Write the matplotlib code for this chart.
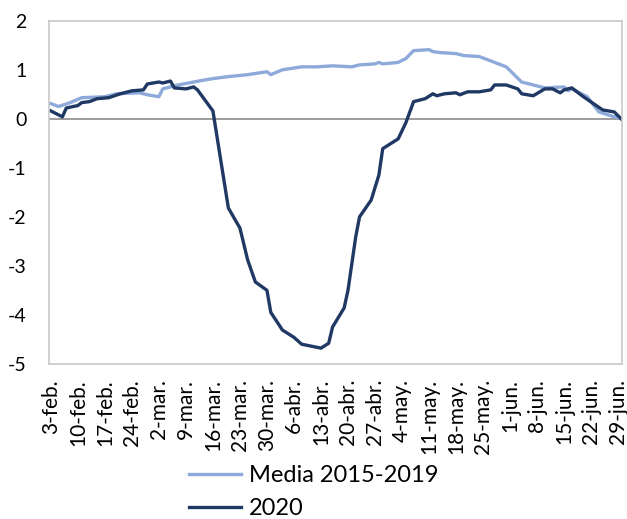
import pandas as pd
import matplotlib.pyplot as plt

# =====================================================
# 1. DATA
# =====================================================

# Media 2015-2019
media_dates = [
    "2020-02-03", "2020-02-05", "2020-02-08", "2020-02-11", "2020-02-17",
    "2020-02-20", "2020-02-26", "2020-02-28", "2020-03-02", "2020-03-03",
    "2020-03-07", "2020-03-13", "2020-03-16", "2020-03-20", "2020-03-25",
    "2020-03-30", "2020-03-31", "2020-04-03", "2020-04-08", "2020-04-12",
    "2020-04-16", "2020-04-21", "2020-04-23", "2020-04-27", "2020-04-28",
    "2020-04-29", "2020-05-03", "2020-05-05", "2020-05-07", "2020-05-11",
    "2020-05-12", "2020-05-14", "2020-05-18", "2020-05-20", "2020-05-24",
    "2020-05-28", "2020-05-31", "2020-06-04", "2020-06-10", "2020-06-15",
    "2020-06-16", "2020-06-17", "2020-06-21", "2020-06-24", "2020-06-28",
    "2020-06-30",
]
media_values = [
    0.31, 0.25, 0.33, 0.43, 0.45,
    0.51, 0.53, 0.49, 0.45, 0.61,
    0.69, 0.78, 0.82, 0.86, 0.90,
    0.96, 0.90, 1.00, 1.06, 1.06,
    1.08, 1.06, 1.10, 1.12, 1.15,
    1.12, 1.15, 1.23, 1.39, 1.41,
    1.37, 1.35, 1.33, 1.29, 1.27,
    1.15, 1.06, 0.75, 0.63, 0.65,
    0.57, 0.61, 0.45, 0.14, 0.04,
    0.00,
]

# 2020
y2020_dates = [
    "2020-02-03", "2020-02-06", "2020-02-07", "2020-02-10", "2020-02-11",
    "2020-02-13", "2020-02-15", "2020-02-18", "2020-02-21", "2020-02-24",
    "2020-02-27", "2020-02-28", "2020-03-02", "2020-03-03", "2020-03-05",
    "2020-03-06", "2020-03-09", "2020-03-11", "2020-03-12", "2020-03-16",
    "2020-03-20", "2020-03-23", "2020-03-25", "2020-03-27", "2020-03-30",
    "2020-03-31", "2020-04-03", "2020-04-06", "2020-04-08", "2020-04-13",
    "2020-04-15", "2020-04-16", "2020-04-19", "2020-04-20", "2020-04-22",
    "2020-04-23", "2020-04-26", "2020-04-28", "2020-04-29", "2020-05-03",
    "2020-05-05", "2020-05-07", "2020-05-10", "2020-05-12", "2020-05-13",
    "2020-05-15", "2020-05-18", "2020-05-19", "2020-05-21", "2020-05-24",
    "2020-05-27", "2020-05-28", "2020-05-31", "2020-06-03", "2020-06-04",
    "2020-06-07", "2020-06-10", "2020-06-12", "2020-06-14", "2020-06-15",
    "2020-06-17", "2020-06-20", "2020-06-25", "2020-06-28", "2020-06-30",
]
y2020_values = [
    0.16, 0.04, 0.22, 0.27, 0.33,
    0.35, 0.41, 0.43, 0.51, 0.57,
    0.59, 0.71, 0.75, 0.73, 0.77,
    0.63, 0.61, 0.65, 0.59, 0.16,
    -1.82, -2.23, -2.88, -3.33, -3.50,
    -3.95, -4.31, -4.46, -4.60, -4.68,
    -4.58, -4.25, -3.86, -3.50, -2.41,
    -2.00, -1.66, -1.15, -0.61, -0.41,
    -0.08, 0.35, 0.41, 0.51, 0.47,
    0.51, 0.53, 0.49, 0.55, 0.55,
    0.59, 0.69, 0.69, 0.61, 0.51,
    0.47, 0.61, 0.61, 0.53, 0.59,
    0.63, 0.45, 0.18, 0.14, -0.02,
]

tick_dates = pd.date_range("2020-02-03", "2020-06-29", freq="7D")
tick_labels = [
    "3-feb.", "10-feb.", "17-feb.", "24-feb.", "2-mar.", "9-mar.",
    "16-mar.", "23-mar.", "30-mar.", "6-abr.", "13-abr.", "20-abr.",
    "27-abr.", "4-may.", "11-may.", "18-may.", "25-may.", "1-jun.",
    "8-jun.", "15-jun.", "22-jun.", "29-jun.",
]

# =====================================================
# 2. PLOT
# =====================================================

plt.rcParams["font.family"] = ["Lato", "DejaVu Sans"]
plt.rcParams["axes.unicode_minus"] = False

fig = plt.figure(figsize=(6.27, 5.19), dpi=100)
ax = fig.add_axes([0.078, 0.299, 0.914, 0.661])

ax.plot(pd.to_datetime(media_dates), media_values, color="#8eaadb",
        linewidth=2.4, label="Media 2015-2019", solid_joinstyle="round")
ax.plot(pd.to_datetime(y2020_dates), y2020_values, color="#1f3864",
        linewidth=2.4, label="2020", solid_joinstyle="round")

ax.axhline(0, color="#8c8c8c", linewidth=1.2, zorder=1)

ax.set_xlim(pd.Timestamp("2020-02-02 12:00"), pd.Timestamp("2020-06-30"))
ax.set_ylim(-5, 2)
ax.set_yticks(range(-5, 3))
ax.set_xticks(tick_dates)
ax.set_xticklabels(tick_labels, rotation=90)
ax.tick_params(axis="both", length=0, colors="black")
ax.tick_params(axis="x", pad=11, labelsize=15)
ax.tick_params(axis="y", pad=16, labelsize=14)

for side in ["left", "right", "top", "bottom"]:
    ax.spines[side].set_color("#c8c8c8")
    ax.spines[side].set_linewidth(1.2)

fig.legend(loc="upper center", bbox_to_anchor=(0.5, 0.122), ncol=1,
           frameon=False, fontsize=17, handlelength=2.2,
           handletextpad=0.35, labelspacing=0.5, borderaxespad=0)

fig.savefig("out.png", dpi=100)
